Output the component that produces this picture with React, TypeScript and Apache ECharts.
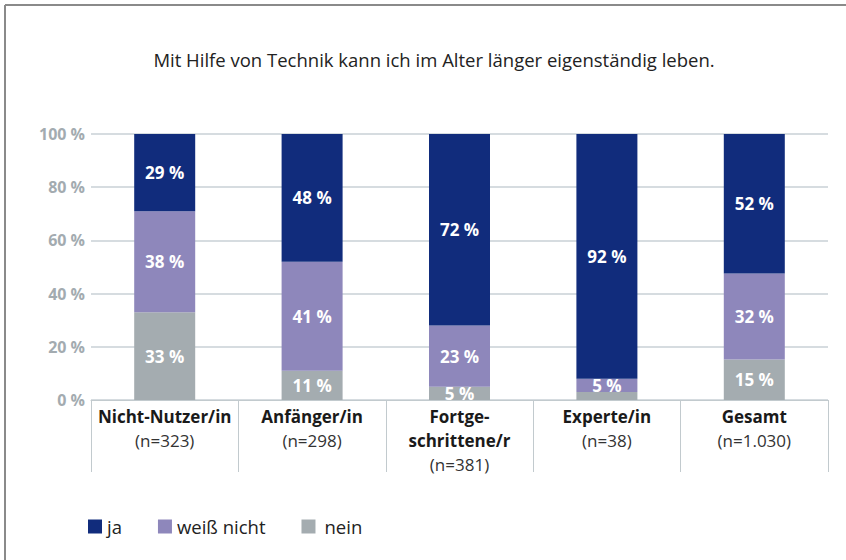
import React, { useEffect, useRef } from "react";
import * as echarts from "echarts";

const titleText = "Mit Hilfe von Technik kann ich im Alter länger eigenständig leben.";
const categories = ["Nicht-Nutzer/in", "Anfänger/in", "Fortge-\nschrittene/r", "Experte/in", "Gesamt"];
const sampleSizes = ["(n=323)", "(n=298)", "(n=381)", "(n=38)", "(n=1.030)"];
const seriesNames = ["ja", "weiß nicht", "nein"];
const neinValues = [33, 11, 5, 3, 15.2];
const weissNichtValues = [38, 41, 23, 5, 32.4];
const jaValues = [29, 48, 72, 92, 52.4];
const colors = { ja: "#112c7c", weiss: "#8e87bb", nein: "#a4acb0" };
const FONT = "'Open Sans', 'Liberation Sans', sans-serif";

export default function App() {
  const ref = useRef<HTMLDivElement>(null);
  useEffect(() => {
    if (!ref.current) return;
    const chart = echarts.init(ref.current, null, { renderer: "svg" });
    const labelCfg = {
      show: true,
      position: "inside" as const,
      color: "#ffffff",
      fontFamily: FONT,
      fontWeight: "bold" as const,
      fontSize: 17,
      lineHeight: 14,
      formatter: (p: any) => (p.value >= 4 ? Math.round(p.value) + " %" : ""),
    };
    const mk = (name: string, data: number[], color: string) => ({
      name,
      type: "bar" as const,
      stack: "total",
      data,
      barWidth: 61,
      itemStyle: { color },
      label: labelCfg,
    });
    chart.setOption({
      animation: false,
      backgroundColor: "#ffffff",
      textStyle: { fontFamily: FONT },
      title: {
        text: titleText,
        left: 429,
        textAlign: "center",
        top: 45,
        textStyle: { fontFamily: FONT, fontSize: 18.5, fontWeight: "normal", color: "#222222" },
      },
      legend: {
        left: 83,
        top: 512,
        itemWidth: 14,
        itemHeight: 14,
        itemGap: 36,
        icon: "rect",
        data: seriesNames,
        formatter: (name: string) => (name === "nein" ? "{p|" + name + "}" : name),
        textStyle: {
          fontFamily: FONT,
          fontSize: 18.5,
          color: "#222222",
          rich: { p: { fontFamily: FONT, fontSize: 18.5, color: "#222222", padding: [0, 0, 0, 4] } },
        },
      },
      grid: { left: 91, right: 18, top: 134, bottom: 160 },
      xAxis: {
        type: "category",
        data: categories,
        axisLine: { show: true, lineStyle: { color: "#c2cace", width: 1 } },
        axisTick: { show: true, length: 72, interval: 0, lineStyle: { color: "#c2cace" } },
        axisLabel: {
          interval: 0,
          margin: 4,
          fontFamily: FONT,
          formatter: (v: string, i: number) =>
            v.split("\n").map((s) => "{b|" + s + "}").join("\n") + "\n{n|" + sampleSizes[i] + "}",
          rich: {
            b: { fontFamily: FONT, fontSize: 17, fontWeight: "bold", color: "#1a1a1a", lineHeight: 24 },
            n: { fontFamily: FONT, fontSize: 17, color: "#333333", lineHeight: 24 },
          },
        },
      },
      yAxis: {
        type: "value",
        min: 0,
        max: 100,
        interval: 20,
        axisLine: { show: false },
        axisTick: { show: false },
        splitLine: { lineStyle: { color: "#c8d0d6", width: 1.5 } },
        axisLabel: {
          formatter: "{value} %",
          margin: 6,
          fontFamily: FONT,
          fontSize: 16,
          fontWeight: "bold",
          color: "#a3abb0",
        },
      },
      graphic: [
        { type: "line", shape: { x1: 5, y1: 5, x2: 846, y2: 5 }, style: { stroke: "#8a8a8a", lineWidth: 2 } },
        { type: "line", shape: { x1: 5, y1: 5, x2: 5, y2: 560 }, style: { stroke: "#8a8a8a", lineWidth: 2 } },
      ],
      series: [
        mk(seriesNames[2], neinValues, colors.nein),
        mk(seriesNames[1], weissNichtValues, colors.weiss),
        mk(seriesNames[0], jaValues, colors.ja),
      ],
    });
    return () => chart.dispose();
  }, []);
  return <div ref={ref} style={{ position: "fixed", left: 0, top: 0, width: 846, height: 560 }} />;
}
